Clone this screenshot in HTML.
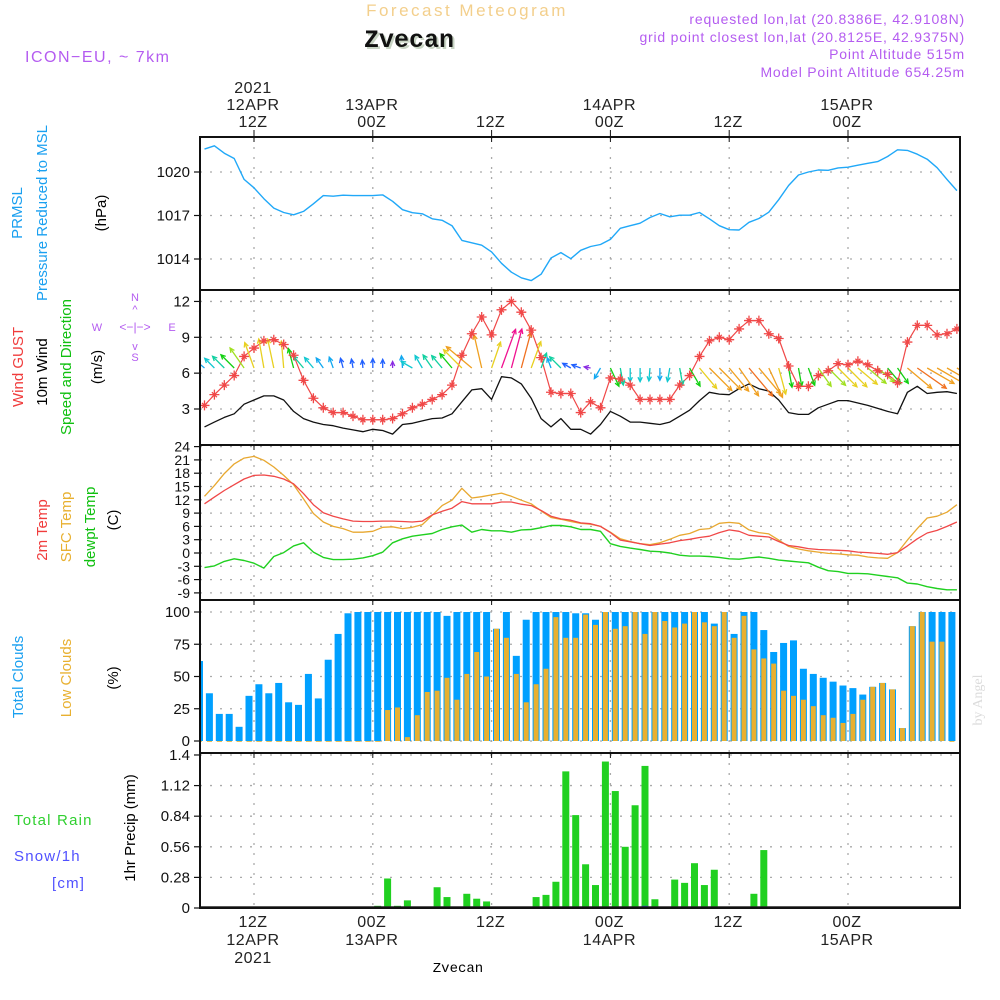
<!DOCTYPE html>
<html><head><meta charset="utf-8"><style>
html,body{margin:0;padding:0;background:#fff;}
svg{display:block;font-family:"Liberation Sans",sans-serif;}
</style></head><body>
<svg id="chart" width="1000" height="1000" viewBox="0 0 1000 1000" xmlns="http://www.w3.org/2000/svg">
<defs><clipPath id="plotclip"><rect x="201" y="137" width="758" height="771"/></clipPath></defs>
<rect x="0" y="0" width="1000" height="1000" fill="#fff"/>
<text x="467" y="16" text-anchor="middle" font-size="17" fill="#f3cf8c" letter-spacing="2.5">Forecast Meteogram</text>
<text x="411" y="49" text-anchor="middle" font-size="25" font-weight="bold" font-family="Liberation Mono, monospace" fill="#c8d4c4">Zvecan</text>
<text x="409" y="47" text-anchor="middle" font-size="25" font-weight="bold" font-family="Liberation Mono, monospace" fill="#111">Zvecan</text>
<text x="25" y="62" font-size="16" fill="#b45cf0" letter-spacing="1.5">ICON−EU, ~ 7km</text>
<g font-size="14" fill="#b45cf0" text-anchor="end" letter-spacing="0.8">
<text x="965" y="24">requested lon,lat (20.8386E, 42.9108N)</text>
<text x="965" y="42">grid point closest lon,lat (20.8125E, 42.9375N)</text>
<text x="965" y="59">Point Altitude 515m</text>
<text x="965" y="77">Model Point Altitude 654.25m</text>
</g>
<text transform="translate(982,700) rotate(-90)" text-anchor="middle" font-size="14" font-family="Liberation Serif, serif" fill="#dcdcdc">by Angel</text>
<g font-size="15" text-anchor="middle">
<text transform="translate(22,213) rotate(-90)" fill="#1aa0f0">PRMSL</text>
<text transform="translate(47,213) rotate(-90)" fill="#1aa0f0">Pressure Reduced to MSL</text>
<text transform="translate(106,213) rotate(-90)" fill="#000">(hPa)</text>
<text transform="translate(23,367) rotate(-90)" fill="#f03c3c">Wind GUST</text>
<text transform="translate(47,372) rotate(-90)" fill="#000">10m Wind</text>
<text transform="translate(71,367) rotate(-90)" fill="#10c010">Speed and Direction</text>
<text transform="translate(102,367) rotate(-90)" fill="#000">(m/s)</text>
<text transform="translate(47,530) rotate(-90)" fill="#f03c3c">2m Temp</text>
<text transform="translate(71,527) rotate(-90)" fill="#e8b030">SFC Temp</text>
<text transform="translate(95,527) rotate(-90)" fill="#10c010">dewpt Temp</text>
<text transform="translate(118,520) rotate(-90)" fill="#000">(C)</text>
<text transform="translate(23,677) rotate(-90)" fill="#1aa0f0">Total Clouds</text>
<text transform="translate(71,678) rotate(-90)" fill="#e8b030">Low Clouds</text>
<text transform="translate(118,678) rotate(-90)" fill="#000">(%)</text>
<text transform="translate(135,828) rotate(-90)" fill="#000">1hr Precip (mm)</text>
</g>
<g font-size="15" letter-spacing="1.2">
<text x="14" y="825" fill="#30d030">Total  Rain</text>
<text x="14" y="861" fill="#5050ff">Snow/1h</text>
<text x="52" y="888" fill="#5050ff">[cm]</text>
</g>
<g font-size="11" fill="#b45cf0" text-anchor="middle">
<text x="135" y="301">N</text>
<text x="135" y="361">S</text>
<text x="97" y="331">W</text>
<text x="172" y="331">E</text>
<text x="135" y="331" font-size="12">&lt;−|−&gt;</text>
<text x="135" y="313" font-size="11">^</text>
<text x="135" y="350" font-size="11">v</text>
</g>
<text x="458" y="972" text-anchor="middle" font-size="14" font-family="Liberation Mono, monospace" fill="#000">Zvecan</text>
<g id="plots"></g>
</svg>
<script>
const startHour = 7;
const pressure = [1021.58,1021.81,1021.30,1020.93,1019.49,1018.91,1018.16,1017.51,1017.21,1017.05,1017.28,1017.81,1018.37,1018.33,1018.40,1018.37,1018.37,1018.37,1018.42,1017.98,1017.40,1017.19,1017.12,1016.77,1016.67,1016.30,1015.28,1015.12,1014.95,1014.49,1013.70,1013.09,1012.70,1012.51,1012.95,1014.07,1014.44,1014.02,1014.60,1014.86,1015.00,1015.35,1016.12,1016.30,1016.47,1016.86,1017.14,1016.91,1017.02,1017.02,1017.21,1016.77,1016.30,1016.02,1016.00,1016.53,1016.79,1017.23,1018.09,1019.07,1019.79,1020.00,1020.14,1020.12,1020.28,1020.33,1020.47,1020.60,1020.72,1021.07,1021.53,1021.49,1021.23,1020.88,1020.30,1019.49,1018.72];
const windGust = [3.3,4.2,5.0,5.8,7.4,8.1,8.7,8.8,8.4,7.5,5.4,3.9,3.1,2.7,2.7,2.4,2.1,2.1,2.1,2.2,2.6,3.1,3.4,3.8,4.2,5.0,7.5,9.3,10.7,9.2,11.3,12.0,11.1,9.6,7.3,4.4,4.3,4.3,2.7,3.6,3.1,5.6,5.5,5.0,3.8,3.8,3.8,3.8,5.0,5.8,7.4,8.7,9.0,8.8,9.7,10.4,10.4,9.3,8.9,6.6,4.9,4.9,5.8,6.2,6.8,6.7,7.0,6.7,6.2,5.9,5.2,8.6,10.0,10.0,9.2,9.3,9.7];
const windSpeed = [1.5,1.9,2.3,2.6,3.4,3.75,4.1,4.1,3.75,2.8,2.2,1.9,1.7,1.6,1.4,1.25,1.1,1.3,1.2,0.9,1.7,1.8,2.0,2.2,2.25,2.6,3.6,4.6,4.7,3.8,5.7,5.6,5.1,3.9,2.2,1.5,2.2,1.3,1.3,0.9,1.7,2.8,2.4,1.9,1.9,1.8,1.7,1.9,2.4,2.9,3.7,4.4,4.25,4.2,4.7,5.1,4.7,4.5,3.75,2.7,2.55,2.55,3.1,3.4,3.7,3.7,3.5,3.3,3.05,2.8,2.6,4.4,4.9,4.3,4.4,4.45,4.3];
const windDir = [-50,-45,-45,-45,-35,-20,-10,-12,-5,-15,-40,-40,-35,-20,-15,-10,-5,0,0,0,-5,-60,-30,-35,-40,-40,-45,-50,-13,19,20,15,15,20,20,-20,-45,-60,-70,-80,210,155,170,180,180,185,180,190,170,150,140,135,135,140,145,140,140,155,165,170,170,160,145,135,135,135,130,130,130,140,145,130,125,120,120,120,120];
const temp2m = [11.1,12.6,14.1,15.4,16.7,17.5,17.6,17.3,16.7,15.6,13.4,10.9,9.1,8.3,7.7,7.2,7.1,7.1,7.2,7.2,7.1,7.0,7.2,8.6,9.4,10.1,11.6,11.1,11.1,11.1,11.5,11.5,11.0,10.7,9.6,8.3,7.7,7.4,6.8,6.6,6.0,4.6,2.9,2.5,2.1,1.7,2.0,2.3,2.8,3.1,3.5,3.8,4.6,5.2,4.9,4.0,3.8,3.6,2.6,1.7,1.4,1.0,0.8,0.7,0.6,0.5,0.2,0.1,-0.1,-0.3,0.1,1.6,3.2,4.5,5.1,6.0,7.0];
const tempSfc = [12.8,15.2,17.9,20.1,21.4,21.8,20.9,19.4,17.5,15.4,12.2,8.9,7.0,6.0,5.5,4.7,4.7,4.9,5.8,5.9,5.5,5.8,6.4,8.5,10.7,11.9,14.6,12.4,12.7,13.1,13.5,12.8,11.9,11.1,9.5,8.0,7.6,7.1,6.7,6.5,6.0,4.7,3.2,2.6,2.1,1.9,2.3,3.1,4.0,4.4,5.3,5.5,6.7,6.9,6.7,5.2,4.6,4.3,2.9,1.5,0.9,0.5,0.2,-0.1,-0.2,-0.4,-0.5,-0.9,-1.1,-1.2,0.1,2.9,5.5,7.9,8.3,9.2,10.9];
const tempDew = [-3.3,-2.9,-1.9,-1.3,-1.7,-2.3,-3.4,-0.8,0.1,1.6,2.3,0.2,-1.0,-1.5,-1.5,-1.4,-1.1,-0.6,0.2,2.3,3.2,3.8,4.1,4.4,5.3,5.9,6.3,4.7,5.3,5.0,5.0,4.7,5.2,5.3,5.7,6.2,6.2,5.9,5.3,5.3,4.9,2.1,1.5,1.1,0.8,0.4,0.3,0.0,-0.5,-0.7,-0.7,-0.8,-1.0,-1.3,-1.4,-1.1,-0.9,-1.2,-1.6,-1.8,-2.0,-2.2,-3.2,-4.0,-4.2,-4.6,-4.6,-4.7,-5.0,-5.3,-5.6,-6.8,-7.0,-7.6,-8.0,-8.3,-8.3];
const totalClouds = [62,37,21,21,11,35,44,37,45,30,28,52,33,63,83,99,100,100,100,100,100,100,100,100,100,97,100,100,100,100,87,100,66,94,100,100,100,100,99,99,94,100,100,100,100,100,100,100,100,100,100,100,91,100,83,100,100,86,69,76,78,56,52,49,46,43,41,36,42,45,40,10,89,100,100,100,100];
const lowClouds = [0,0,0,0,0,0,0,0,0,0,0,0,0,0,0,0,0,0,0,24,26,3,20,38,39,49,32,52,69,50,87,80,52,30,44,56,96,80,80,98,90,100,87,89,100,83,100,93,88,91,100,92,89,100,80,97,71,64,60,39,35,32,27,20,18,14,21,32,42,45,40,10,89,100,77,77,0];
const precipRain = [0,0,0,0,0,0,0,0,0,0,0,0,0,0,0,0,0,0,0.02,0.27,0.02,0.07,0,0,0.19,0.10,0,0.13,0.085,0.06,0,0.01,0,0,0.10,0.12,0.24,1.25,0.85,0.40,0.21,1.34,1.07,0.56,0.94,1.30,0.08,0.01,0.26,0.23,0.41,0.21,0.35,0,0,0,0.13,0.53,0.01,0,0,0,0,0,0,0,0,0,0,0,0,0,0,0,0,0,0];
const snowCm = [0,0,0,0,0,0,0,0,0,0,0,0,0,0,0,0,0,0,0,0,0,0,0,0,0,0,0,0,0,0,0,0,0,0,0,0,0,0,0,0,0,0,0,0,0,0.02,0,0,0,0,0,0,0,0,0,0,0,0,0,0,0,0,0,0,0,0,0,0,0,0,0,0,0,0,0,0,0];
const pressTicks = [1014,1017,1020];
const windTicks = [3,6,9,12];
const tempTicks = [-9,-6,-3,0,3,6,9,12,15,18,21,24];
const cloudTicks = [0,25,50,75,100];
const precipTicks = [0,0.28,0.56,0.84,1.12,1.4];
const precipTickLabels = ["0","0.28","0.56","0.84","1.12","1.4"];
const timeTicksHour = [12,24,36,48,60,72];
const topTimeLabels = [["2021","12APR","12Z"],["13APR","00Z"],["12Z"],["14APR","00Z"],["12Z"],["15APR","00Z"]];
const bottomTimeLabels = [["12Z","12APR","2021"],["00Z","13APR"],["12Z"],["00Z","14APR"],["12Z"],["00Z","15APR"]];

const X0 = 200, X1 = 960;
const P = {press:{top:137,bot:290},wind:{top:290,bot:445},temp:{top:445,bot:600},cloud:{top:600,bot:753},precip:{top:753,bot:908}};
function yPress(v){return 172 + (1020 - v)*14.5;}
function yWind(v){return 409 - (v - 3)*11.95;}
function yTemp(v){return 553 - v*13.3/3;}
function yCloud(v){return 741 - v*1.29;}
function yPrecip(v){return 908 - v*109.3;}
function xTime(h){return 254 + (h - 12)*9.9;}

const NS = "http://www.w3.org/2000/svg";
const root = document.getElementById("plots");
function mk(tag, attrs, parent){
  const e = document.createElementNS(NS, tag);
  for (const k in attrs) e.setAttribute(k, attrs[k]);
  (parent || root).appendChild(e);
  return e;
}
function grp(name, clip){
  const g = mk("g", clip ? {"clip-path":"url(#plotclip)"} : {});
  
  
  return g;
}

const gridG = grp("grid-lines");
const panels = [["press",yPress,pressTicks],["wind",yWind,windTicks],["temp",yTemp,tempTicks],["cloud",yCloud,cloudTicks],["precip",yPrecip,precipTicks]];
panels.forEach(([key,yf,ticks])=>{
  const p = P[key];
  ticks.forEach(t=>{
    const y = yf(t);
    const l = mk("line",{x1:X0,x2:X1,y1:y,y2:y,stroke:"#aaa","stroke-width":1.3,"stroke-dasharray":"2,8"},gridG);
    
    
  });
  timeTicksHour.forEach(h=>{
    const x = xTime(h);
    const l = mk("line",{x1:x,x2:x,y1:p.top,y2:p.bot,stroke:"#aaa","stroke-width":1.3,"stroke-dasharray":"2,8"},gridG);
    
    
  });
});

const cloudG = grp("cloud-bars", true);
totalClouds.forEach((v,i)=>{
  const x = xTime(startHour + i) - 5;
  const r = mk("rect",{x:x-3.5,y:yCloud(v),width:7,height:yCloud(0)-yCloud(v),fill:"#00a0ff"},cloudG);
  
  
});
lowClouds.forEach((v,i)=>{
  const x = xTime(startHour + i) - 5;
  const r = mk("rect",{x:x-2.5,y:yCloud(v),width:5,height:Math.max(0.8,yCloud(0)-yCloud(v)),fill:"#e8b030"},cloudG);
  
  
});

const precG = grp("precip-bars", true);
precipRain.forEach((v,i)=>{
  if (v <= 0) return;
  const x = xTime(startHour + i) - 5;
  const r = mk("rect",{x:x-3.5,y:yPrecip(v),width:7,height:yPrecip(0)-yPrecip(v),fill:"#20d020"},precG);
  
  
});
snowCm.forEach((v,i)=>{
  if (v <= 0) return;
  const x = xTime(startHour + i) - 5;
  const r = mk("rect",{x:x-3,y:yPrecip(v),width:6,height:yPrecip(0)-yPrecip(v),fill:"#3050ff"},precG);
  
  
});
const baseL = mk("line",{x1:X0,x2:X1,y1:907,y2:907,stroke:"#222","stroke-width":1.5},precG);



const lineG = grp("series-lines", true);
function drawLine(arr, yf, color, name, w){
  const pts = arr.map((v,i)=>xTime(startHour+i).toFixed(1)+","+yf(v).toFixed(1)).join(" ");
  const pl = mk("polyline",{points:pts,fill:"none",stroke:color,"stroke-width":w||1.3,"stroke-linejoin":"round"},lineG);
  
  
  return pl;
}
drawLine(pressure, yPress, "#20a8f8", "pressure-line", 1.4);
drawLine(tempSfc, yTemp, "#e8a830", "sfc-temp-line", 1.3);
drawLine(temp2m, yTemp, "#f04848", "temp-2m-line", 1.3);
drawLine(tempDew, yTemp, "#20d020", "dewpoint-line", 1.4);
drawLine(windSpeed, yWind, "#111", "wind-speed-line", 1.3);

function speedColor(s){
  if (s < 1.0) return "#8a2be2";
  if (s < 1.45) return "#2060ff";
  if (s < 1.75) return "#10a8f0";
  if (s < 2.1) return "#10c8d0";
  if (s < 2.5) return "#10d0a0";
  if (s < 3.0) return "#10d010";
  if (s < 3.5) return "#a0e020";
  if (s < 4.15) return "#e8d020";
  if (s < 4.9) return "#f0a020";
  if (s < 5.3) return "#f07020";
  return "#f01090";
}
const arrG = grp("wind-arrows", true);
windDir.forEach((d,i)=>{
  const s = windSpeed[i];
  const len = 7.2*s;
  const x = xTime(startHour+i), y = 368;
  const a = d*Math.PI/180;
  const x2 = x + len*Math.sin(a), y2 = y - len*Math.cos(a);
  const c = speedColor(s);
  const g = mk("g",{stroke:c,"stroke-width":1.3,fill:"none"},arrG);
  
  
  mk("line",{x1:x,y1:y,x2:x2,y2:y2},g);
  const h = 5;
  const b1 = a + Math.PI - 0.45, b2 = a + Math.PI + 0.45;
  mk("polyline",{points:`${x2+h*Math.sin(b1)},${y2-h*Math.cos(b1)} ${x2},${y2} ${x2+h*Math.sin(b2)},${y2-h*Math.cos(b2)}`},g);
});

drawLine(windGust, yWind, "#f04848", "wind-gust-line", 1.2);
const gm = grp("wind-gust-markers", true);
windGust.forEach((v,i)=>{
  const x = xTime(startHour+i), y = yWind(v);
  const p = mk("path",{d:`M${x-5},${y}H${x+5}M${x},${y-5}V${y+5}M${x-2.5},${y-2.5}L${x+2.5},${y+2.5}M${x-2.5},${y+2.5}L${x+2.5},${y-2.5}`,stroke:"#f04848","stroke-width":1.3},gm);
  
  
});

const frG = grp("panel-frames");
["press","wind","temp","cloud","precip"].forEach(k=>{
  const p = P[k];
  const r = mk("rect",{x:X0,y:p.top,width:X1-X0,height:p.bot-p.top,fill:"none",stroke:"#111","stroke-width":2},frG);
  
  
  timeTicksHour.forEach(h=>{
    const x = xTime(h);
    mk("line",{x1:x,x2:x,y1:p.top,y2:p.top+5,stroke:"#111","stroke-width":1},frG);
  });
});

const tlG = grp("y-tick-labels");
function yLabels(ticks, yf, labels, fs, name){
  ticks.forEach((t,i)=>{
    const y = yf(t);
    mk("line",{x1:X0-6,x2:X0,y1:y,y2:y,stroke:"#111","stroke-width":1.2},tlG);
    const tx = mk("text",{x:X0-10,y:y+5,"text-anchor":"end","font-size":fs,fill:"#111"},tlG);
    tx.textContent = labels ? labels[i] : String(t);
    
    
  });
}
yLabels(pressTicks, yPress, null, 15, "pressure-tick-label");
yLabels(windTicks, yWind, null, 15, "wind-tick-label");
yLabels(tempTicks, yTemp, null, 14, "temp-tick-label");
yLabels(cloudTicks, yCloud, null, 15, "cloud-tick-label");
yLabels(precipTicks, yPrecip, precipTickLabels, 15, "precip-tick-label");

const ttG = grp("time-labels");
timeTicksHour.forEach((h,i)=>{
  const x = xTime(h) - 1;
  const top = topTimeLabels[i];
  top.forEach((s,j)=>{
    const t = mk("text",{x:x,y:127-(top.length-1-j)*17,"text-anchor":"middle","font-size":16,fill:"#222","letter-spacing":"0.5"},ttG);
    t.textContent = s;
    
    
  });
  mk("line",{x1:x+1,x2:x+1,y1:130,y2:137,stroke:"#111","stroke-width":1},ttG);
  bottomTimeLabels[i].forEach((s,j)=>{
    const t = mk("text",{x:x,y:927+j*18,"text-anchor":"middle","font-size":16,fill:"#222","letter-spacing":"0.5"},ttG);
    t.textContent = s;
    
    
  });
});
</script>
</body></html>
